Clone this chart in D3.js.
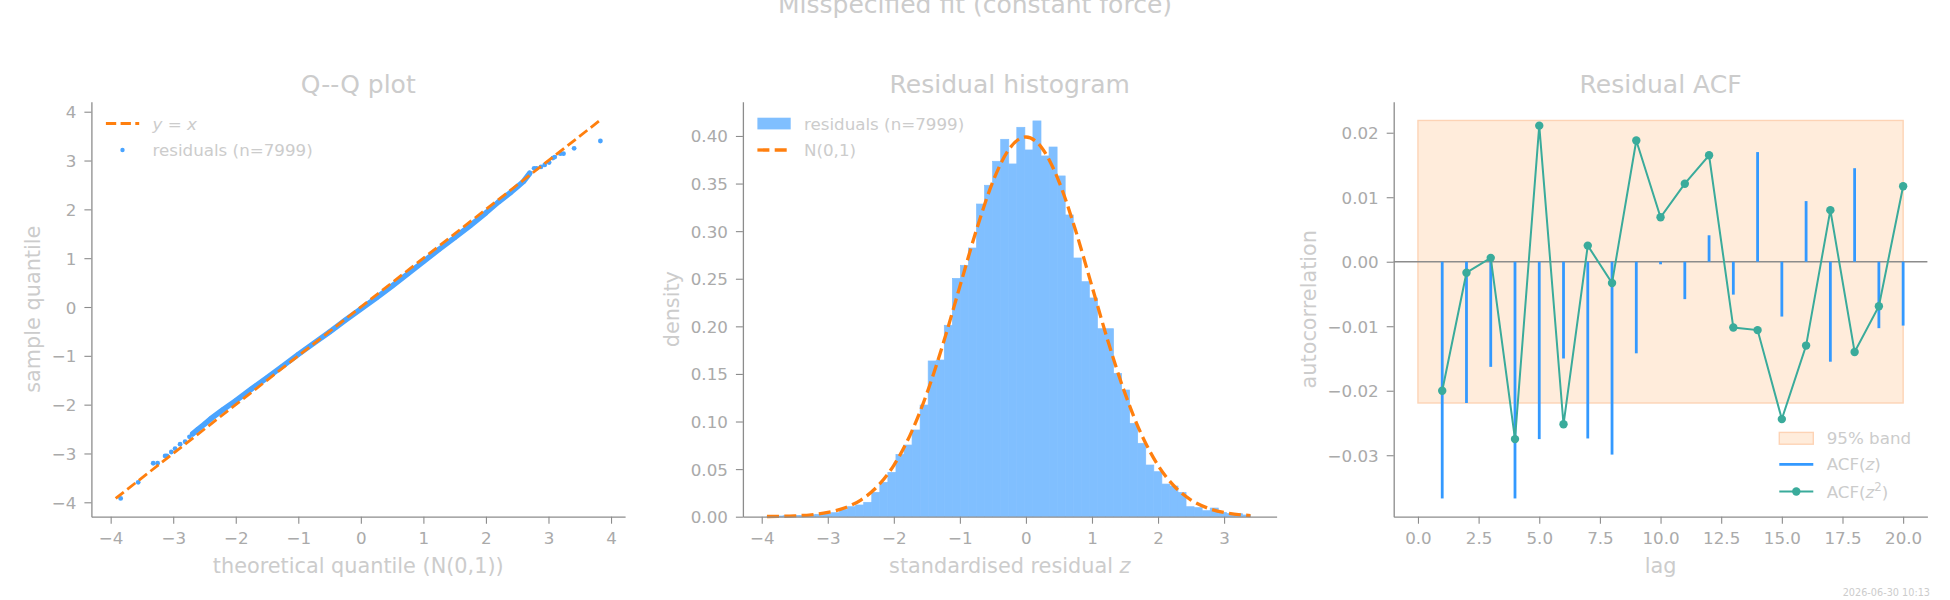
<!DOCTYPE html>
<html>
<head>
<meta charset="utf-8">
<script src="https://cdn.jsdelivr.net/npm/d3@7"></script>
<style>
  body { margin: 0; background: #fff; }
  svg { display: block; font-family: "DejaVu Sans", sans-serif; }
</style>
</head>
<body>
<svg id="fig" width="1950" height="600"></svg>
<script>
// Q-Q plot: dense band of residual quantiles, plus the sparse tail points
const qqBandTheo   = [-2.69, -2.60, -2.50, -2.40, -2.20, -2.00, -1.75, -1.50, -1.25, -1.00, -0.75, -0.50, -0.25, 0.00, 0.25, 0.50, 0.75, 1.00, 1.25, 1.50, 1.75, 2.00, 2.20, 2.40, 2.50, 2.60, 2.70];
const qqBandSample = [-2.60, -2.50, -2.40, -2.29, -2.10, -1.92, -1.68, -1.45, -1.21, -0.97, -0.74, -0.51, -0.27, -0.04, 0.19, 0.43, 0.68, 0.93, 1.18, 1.42, 1.67, 1.93, 2.15, 2.35, 2.46, 2.57, 2.74];
const qqTailTheo   = [-3.84, -3.56, -3.32, -3.25, -3.13, -3.10, -3.03, -2.97, -2.89, -2.81, -2.74, 2.77, 2.81, 2.88, 2.94, 3.01, 3.07, 3.10, 3.19, 3.24, 3.41, 3.83];
const qqTailSample = [-3.92, -3.59, -3.20, -3.20, -3.05, -3.05, -2.97, -2.90, -2.81, -2.76, -2.66, 2.84, 2.84, 2.87, 2.91, 2.96, 3.05, 3.07, 3.14, 3.14, 3.25, 3.40];
const qqLineEnds = [-3.92, 3.84];

// histogram: 60 bins between the residual min and max
const histStart = -3.92;
const histBinWidth = 0.122;
const histDensity = [
  0.0007, 0.0007, 0.0010, 0.0014, 0.0014, 0.0021, 0.0025, 0.0032, 0.0042, 0.0077,
  0.0105, 0.0123, 0.0151, 0.0256, 0.0361, 0.0466, 0.0655, 0.0753, 0.0911, 0.1173,
  0.1636, 0.1646, 0.2011, 0.2504, 0.2641, 0.2823, 0.3285, 0.3482, 0.3734, 0.3965,
  0.3706, 0.4091, 0.3853, 0.4158, 0.3790, 0.3884, 0.3580, 0.3170, 0.2718, 0.2469,
  0.2298, 0.1975, 0.1975, 0.1506, 0.1331, 0.0981, 0.0771, 0.0543, 0.0473, 0.0343,
  0.0322, 0.0256, 0.0105, 0.0095, 0.0063, 0.0091, 0.0046, 0.0035, 0.0032, 0.0018
];
// N(0,1) density
const pdfX = [-3.92, -3.75, -3.5, -3.25, -3.0, -2.75, -2.5, -2.25, -2.0, -1.75, -1.5, -1.25, -1.0, -0.75, -0.5, -0.25, 0.0, 0.25, 0.5, 0.75, 1.0, 1.25, 1.5, 1.75, 2.0, 2.25, 2.5, 2.75, 3.0, 3.25, 3.4];
const pdfY = [0.00019, 0.00035, 0.00087, 0.00203, 0.00443, 0.00909, 0.01753, 0.03174, 0.05399, 0.08628, 0.12952, 0.18265, 0.24197, 0.30114, 0.35207, 0.38667, 0.39894, 0.38667, 0.35207, 0.30114, 0.24197, 0.18265, 0.12952, 0.08628, 0.05399, 0.03174, 0.01753, 0.00909, 0.00443, 0.00203, 0.00123];

// autocorrelations by lag
const lags = [1, 2, 3, 4, 5, 6, 7, 8, 9, 10, 11, 12, 13, 14, 15, 16, 17, 18, 19, 20];
const acfZ = [-0.0367, -0.0219, -0.0163, -0.0367, -0.0275, -0.0150, -0.0274, -0.0299, -0.0142, -0.0004,
              -0.0058, 0.0041, -0.0051, 0.0170, -0.0085, 0.0094, -0.0155, 0.0145, -0.0103, -0.0099];
const acfZ2 = [-0.0200, -0.0017, 0.0006, -0.0275, 0.0211, -0.0252, 0.0025, -0.0033, 0.0188, 0.0069,
               0.0121, 0.0165, -0.0102, -0.0106, -0.0244, -0.0130, 0.0080, -0.0140, -0.0069, 0.0117];
const bandLimit = 0.0219;
const bandLags = [0, 20];

// ---- style ----
const ORANGE = "#ff7f0e", HIST = "#80bfff", DOT = "#4aa4ff", BAR = "#3399ff", TEAL = "#3aab9b";
const SPINE = "#8c8c8c", TICKTXT = "#aaaaaa", LIGHT = "#cccccc";
const BAND_FILL = "#ffecdb", BAND_EDGE = "#fdd3b5";

const svg = d3.select("#fig");
svg.append("rect").attr("width", 1950).attr("height", 600).attr("fill", "#fff");

const axTop = 101.7, axBottom = 516.7, axW = 533.7;

function makeAxes(left, xDomain, yDomain, xTicks, yTicks, xFmt, yFmt) {
  const x = d3.scaleLinear().domain(xDomain).range([left, left + axW]);
  const y = d3.scaleLinear().domain(yDomain).range([axBottom, axTop]);
  const g = svg.append("g");
  const layer = g.append("g");

  const xa = g.append("g").attr("transform", `translate(0,${axBottom})`)
    .call(d3.axisBottom(x).tickValues(xTicks).tickFormat(xFmt).tickSize(7).tickSizeOuter(0));
  const ya = g.append("g").attr("transform", `translate(${left},0)`)
    .call(d3.axisLeft(y).tickValues(yTicks).tickFormat(yFmt).tickSize(7).tickSizeOuter(0));
  [xa, ya].forEach(a => {
    a.select(".domain").attr("stroke", SPINE).attr("stroke-width", 1.3);
    a.selectAll(".tick line").attr("stroke", SPINE).attr("stroke-width", 1.1);
    a.selectAll(".tick text").attr("fill", TICKTXT).style("font-size", "16.7px")
      .style("font-family", "DejaVu Sans");
  });
  xa.selectAll(".tick text").attr("y", 27.3).attr("dy", 0);
  ya.selectAll(".tick text").attr("x", -15).attr("dy", "0.36em");
  return { x, y, g, layer, left };
}

function labels(ax, title, xlab, ylab, ylabX) {
  const cx = ax.left + axW / 2;
  ax.g.append("text").attr("x", cx).attr("y", 93).attr("text-anchor", "middle")
    .attr("fill", LIGHT).style("font-size", "25px").text(title);
  const xl = ax.g.append("text").attr("x", cx).attr("y", 573).attr("text-anchor", "middle")
    .attr("fill", LIGHT).style("font-size", "20.8px");
  xlab(xl);
  ax.g.append("text").attr("transform", `translate(${ylabX},${(axTop + axBottom) / 2}) rotate(-90)`)
    .attr("text-anchor", "middle").attr("fill", LIGHT).style("font-size", "20.8px").text(ylab);
}

function legendText(g, x, cy, build) {
  const t = g.append("text").attr("x", x).attr("y", cy + 6).attr("fill", LIGHT).style("font-size", "16.7px");
  build(t);
  return t;
}

// ---- suptitle (clipped at the top edge, as in the original) and stamp ----
svg.append("text").attr("x", 975).attr("y", 13).attr("text-anchor", "middle")
  .attr("fill", LIGHT).style("font-size", "25px").text("Misspecified fit (constant force)");
svg.append("text").attr("x", 1930).attr("y", 595.5).attr("text-anchor", "end")
  .attr("fill", LIGHT).style("font-size", "9.7px").text("2026-06-30 10:13");

// ---- Q-Q plot ----
{
  const ax = makeAxes(91.4, [-4.308, 4.225], [-4.295, 4.205],
    d3.range(-4, 5), d3.range(-4, 5), d3.format("d"), d3.format("d"));
  const pts = qqBandTheo.map((t, i) => [t, qqBandSample[i]]);
  const tail = qqTailTheo.map((t, i) => [t, qqTailSample[i]]);
  ax.layer.append("path").datum(pts)
    .attr("d", d3.line().x(d => ax.x(d[0])).y(d => ax.y(d[1])))
    .attr("fill", "none").attr("stroke", DOT).attr("stroke-width", 5.5)
    .attr("stroke-linecap", "round").attr("stroke-linejoin", "round");
  ax.layer.selectAll(".qd").data(pts.concat(tail)).join("circle")
    .attr("cx", d => ax.x(d[0])).attr("cy", d => ax.y(d[1])).attr("r", 2.4).attr("fill", DOT);
  ax.layer.append("line")
    .attr("x1", ax.x(qqLineEnds[0])).attr("y1", ax.y(qqLineEnds[0]))
    .attr("x2", ax.x(qqLineEnds[1])).attr("y2", ax.y(qqLineEnds[1]))
    .attr("stroke", ORANGE).attr("stroke-width", 2.8).attr("stroke-dasharray", "10.3,4.4");

  labels(ax, "Q--Q plot", t => t.text("theoretical quantile (N(0,1))"), "sample quantile", 40);

  const lx = ax.left + 14.5;
  ax.g.append("line").attr("x1", lx).attr("x2", lx + 33.3).attr("y1", 123.5).attr("y2", 123.5)
    .attr("stroke", ORANGE).attr("stroke-width", 2.8).attr("stroke-dasharray", "10.3,4.4");
  legendText(ax.g, lx + 46.6, 123.5, t => {
    t.append("tspan").style("font-style", "italic").text("y");
    t.append("tspan").text(" = ");
    t.append("tspan").style("font-style", "italic").text("x");
  });
  ax.g.append("circle").attr("cx", lx + 16.6).attr("cy", 150).attr("r", 2.2).attr("fill", DOT);
  legendText(ax.g, lx + 46.6, 150, t => t.text("residuals (n=7999)"));
}

// ---- histogram ----
{
  const ax = makeAxes(742.9, [-4.285, 3.795], [0, 0.436],
    d3.range(-4, 4), d3.range(0, 0.41, 0.05), d3.format("d"), d3.format(".2f"));
  ax.layer.selectAll("rect").data(histDensity).join("rect")
    .attr("x", (d, i) => ax.x(histStart + i * histBinWidth))
    .attr("width", ax.x(histBinWidth) - ax.x(0))
    .attr("y", d => ax.y(d))
    .attr("height", d => ax.y(0) - ax.y(d))
    .attr("fill", HIST).attr("stroke", HIST).attr("stroke-width", 0.7);
  ax.layer.append("path").datum(pdfX.map((v, i) => [v, pdfY[i]]))
    .attr("d", d3.line().curve(d3.curveMonotoneX).x(d => ax.x(d[0])).y(d => ax.y(d[1])))
    .attr("fill", "none").attr("stroke", ORANGE).attr("stroke-width", 3.3)
    .attr("stroke-dasharray", "12,5.3");

  labels(ax, "Residual histogram", t => {
    t.append("tspan").text("standardised residual ");
    t.append("tspan").style("font-style", "italic").text("z");
  }, "density", 678.5);

  const lx = ax.left + 14.5;
  ax.g.append("rect").attr("x", lx).attr("y", 117.7).attr("width", 33.3).attr("height", 11.7).attr("fill", HIST);
  legendText(ax.g, lx + 46.6, 123.5, t => t.text("residuals (n=7999)"));
  ax.g.append("line").attr("x1", lx).attr("x2", lx + 33.3).attr("y1", 150).attr("y2", 150)
    .attr("stroke", ORANGE).attr("stroke-width", 3.3).attr("stroke-dasharray", "12,5.3");
  legendText(ax.g, lx + 46.6, 150, t => t.text("N(0,1)"));
}

// ---- ACF ----
{
  const ax = makeAxes(1393.7, [-1, 21], [-0.03953, 0.02481],
    d3.range(0, 20.1, 2.5), [-0.03, -0.02, -0.01, 0, 0.01, 0.02], d3.format(".1f"), d3.format(".2f"));
  ax.layer.append("rect")
    .attr("x", ax.x(bandLags[0])).attr("width", ax.x(bandLags[1]) - ax.x(bandLags[0]))
    .attr("y", ax.y(bandLimit)).attr("height", ax.y(-bandLimit) - ax.y(bandLimit))
    .attr("fill", BAND_FILL).attr("stroke", BAND_EDGE).attr("stroke-width", 1.4);
  ax.layer.append("line").attr("x1", ax.x.range()[0]).attr("x2", ax.x.range()[1])
    .attr("y1", ax.y(0)).attr("y2", ax.y(0)).attr("stroke", SPINE).attr("stroke-width", 1.4);
  ax.layer.selectAll(".bar").data(lags).join("line")
    .attr("x1", d => ax.x(d)).attr("x2", d => ax.x(d))
    .attr("y1", ax.y(0)).attr("y2", (d, i) => ax.y(acfZ[i]))
    .attr("stroke", BAR).attr("stroke-width", 2.8);
  ax.layer.append("path").datum(lags.map((l, i) => [l, acfZ2[i]]))
    .attr("d", d3.line().x(d => ax.x(d[0])).y(d => ax.y(d[1])))
    .attr("fill", "none").attr("stroke", TEAL).attr("stroke-width", 2);
  ax.layer.selectAll(".mk").data(lags).join("circle")
    .attr("cx", d => ax.x(d)).attr("cy", (d, i) => ax.y(acfZ2[i])).attr("r", 4.2).attr("fill", TEAL);

  labels(ax, "Residual ACF", t => t.text("lag"), "autocorrelation", 1315.5);

  const lx = 1779.3, tx = 1826.7;
  ax.g.append("rect").attr("x", lx).attr("y", 432.4).attr("width", 34).attr("height", 11.8)
    .attr("fill", BAND_FILL).attr("stroke", BAND_EDGE).attr("stroke-width", 1.4);
  legendText(ax.g, tx, 438.3, t => t.text("95% band"));
  ax.g.append("line").attr("x1", lx).attr("x2", lx + 34).attr("y1", 464.3).attr("y2", 464.3)
    .attr("stroke", BAR).attr("stroke-width", 2.8);
  legendText(ax.g, tx, 464.3, t => {
    t.append("tspan").text("ACF(");
    t.append("tspan").style("font-style", "italic").text("z");
    t.append("tspan").text(")");
  });
  ax.g.append("line").attr("x1", lx).attr("x2", lx + 34).attr("y1", 491.5).attr("y2", 491.5)
    .attr("stroke", TEAL).attr("stroke-width", 2);
  ax.g.append("circle").attr("cx", lx + 17).attr("cy", 491.5).attr("r", 4.2).attr("fill", TEAL);
  legendText(ax.g, tx, 491.5, t => {
    t.append("tspan").text("ACF(");
    t.append("tspan").style("font-style", "italic").text("z");
    t.append("tspan").attr("dy", -7).style("font-size", "11.7px").text("2");
    t.append("tspan").attr("dy", 7).text(")");
  });
}
</script>
</body>
</html>
